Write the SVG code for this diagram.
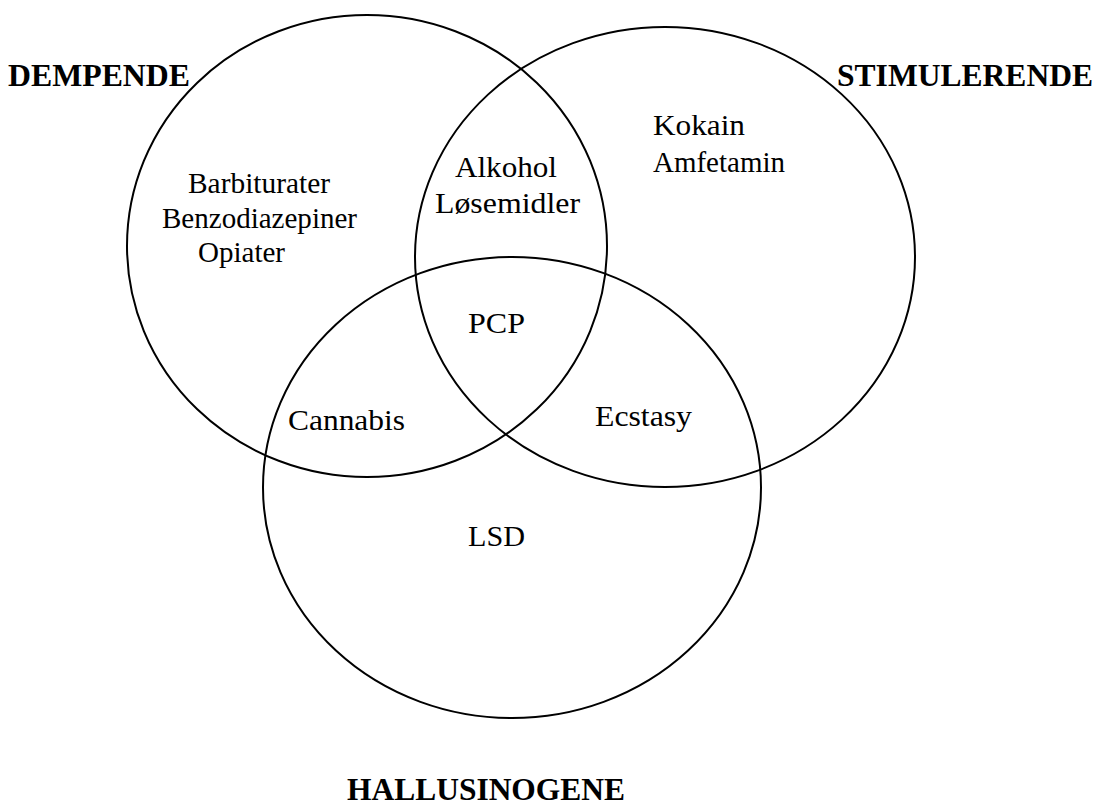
<svg xmlns="http://www.w3.org/2000/svg" width="1098" height="805" viewBox="0 0 1098 805">
<style>
.c{fill:none;stroke:#000;stroke-width:2}
.t{font-family:"Liberation Serif","Times New Roman",serif;font-size:30px;fill:#000}
.h{font-family:"Liberation Serif","Times New Roman",serif;font-size:32px;font-weight:bold;fill:#000}
</style>
<rect width="1098" height="805" fill="#fff"/>
<g id="dempende">
<ellipse class="c" cx="367" cy="246" rx="240" ry="231"/>
<text class="h" x="8" y="86" textLength="182" lengthAdjust="spacingAndGlyphs">DEMPENDE</text>
<text class="t" x="188" y="193" textLength="142" lengthAdjust="spacingAndGlyphs">Barbiturater</text>
<text class="t" x="162" y="228" textLength="195" lengthAdjust="spacingAndGlyphs">Benzodiazepiner</text>
<text class="t" x="198" y="262" textLength="87" lengthAdjust="spacingAndGlyphs">Opiater</text>
</g>
<g id="stimulerende">
<ellipse class="c" cx="665" cy="257" rx="250" ry="230"/>
<text class="h" x="837" y="86" textLength="256" lengthAdjust="spacingAndGlyphs">STIMULERENDE</text>
<text class="t" x="653" y="135" textLength="92" lengthAdjust="spacingAndGlyphs">Kokain</text>
<text class="t" x="653" y="172" textLength="132" lengthAdjust="spacingAndGlyphs">Amfetamin</text>
</g>
<g id="hallusinogene">
<ellipse class="c" cx="512" cy="487.5" rx="249" ry="230.5"/>
<text class="h" x="347" y="800" textLength="278" lengthAdjust="spacingAndGlyphs">HALLUSINOGENE</text>
<text class="t" x="468" y="546" textLength="57" lengthAdjust="spacingAndGlyphs">LSD</text>
</g>
<g id="overlaps">
<text class="t" x="455" y="177" textLength="102" lengthAdjust="spacingAndGlyphs">Alkohol</text>
<text class="t" x="435" y="213" textLength="145" lengthAdjust="spacingAndGlyphs">Løsemidler</text>
<text class="t" x="468" y="333" textLength="57" lengthAdjust="spacingAndGlyphs">PCP</text>
<text class="t" x="288" y="430" textLength="117" lengthAdjust="spacingAndGlyphs">Cannabis</text>
<text class="t" x="595" y="426" textLength="97" lengthAdjust="spacingAndGlyphs">Ecstasy</text>
</g>
<g id="connectors"></g>
</svg>
